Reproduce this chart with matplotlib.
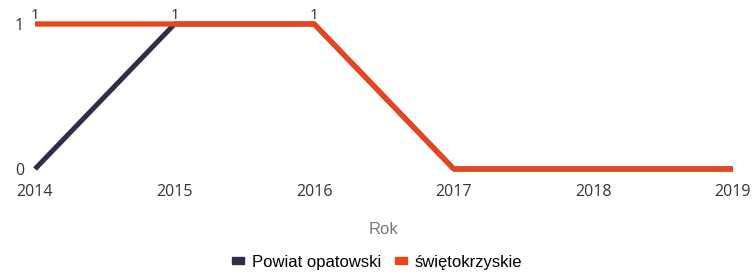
import matplotlib
matplotlib.use("Agg")
import matplotlib.pyplot as plt
from matplotlib.patches import Patch

# chart data
years = [2014, 2015, 2016, 2017, 2018, 2019]
powiat = [0, 1, 1, 0, 0, 0]
swietokrzyskie = [1, 1, 1, 0, 0, 0]
series_names = ["Powiat opatowski", "świętokrzyskie"]

c_powiat = "#2d2f45"
c_swiet = "#e8451f"
txt = "#333333"

fig = plt.figure(figsize=(7.54, 2.78), dpi=100)
ax = fig.add_axes([35 / 754, 1 - 169 / 278, 698 / 754, 145 / 278])

ax.plot(years, powiat, color=c_powiat, lw=3.6, solid_capstyle="butt", clip_on=False, zorder=2)
ax.plot(years, swietokrzyskie, color=c_swiet, lw=3.8, solid_capstyle="butt", clip_on=False, zorder=3)

# value labels above the non-zero points of the top series
for x, v in zip(years, swietokrzyskie):
    if v:
        ax.annotate(str(v), (x, v), xytext=(0, 1), textcoords="offset points",
                    ha="center", va="bottom", fontsize=11, color=txt, family="Open Sans")

ax.set_xlim(years[0], years[-1])
ax.set_ylim(0, 1)
ax.set_xticks(years)
ax.set_xticklabels([str(y) for y in years], family="Open Sans", fontsize=11.5, color=txt)
ax.set_yticks([0, 1])
ax.set_yticklabels(["0", "1"], family="Open Sans", fontsize=11.5, color=txt)
ax.tick_params(length=0)
ax.tick_params(axis="x", pad=11)
ax.tick_params(axis="y", pad=8)
for s in ax.spines.values():
    s.set_visible(False)

ax.set_xlabel("Rok", family="Liberation Sans", fontsize=12, color="#7a7a7a", labelpad=16)

handles = [Patch(color=c_powiat), Patch(color=c_swiet)]
fig.legend(handles, series_names, loc="center", bbox_to_anchor=(0.5, 1 - 262 / 278), ncol=2,
           frameon=False, prop={"family": "Liberation Sans", "size": 12},
           handlelength=0.75, handleheight=0.3, handletextpad=0.45, columnspacing=0.8)

fig.savefig("out.png", dpi=100)
